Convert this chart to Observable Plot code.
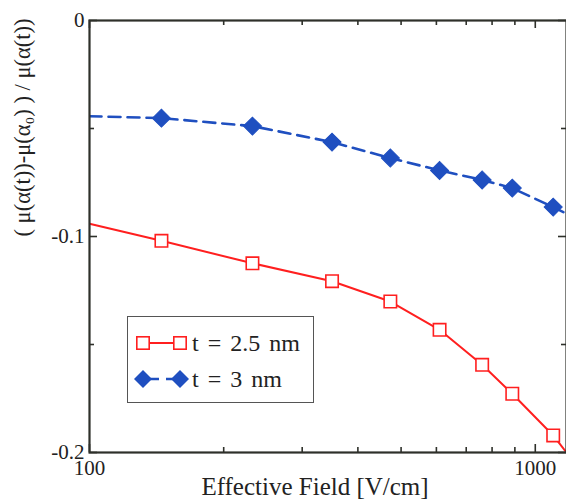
<!DOCTYPE html>
<html>
<head>
<meta charset="utf-8">
<script src="https://cdn.jsdelivr.net/npm/d3@7"></script>
<script src="https://cdn.jsdelivr.net/npm/@observablehq/plot@0.6"></script>
<style>
  html, body { margin: 0; padding: 0; background: #fff; }
  #chart { position: relative; width: 566px; height: 504px; overflow: hidden; }
  #chart svg, #chart svg text { font-family: "Liberation Serif", "Times New Roman", serif !important; }
</style>
</head>
<body>
<div id="chart"></div>
<script>
// ---- data ----
const field = [145, 232, 350, 473, 610, 760, 888, 1097];            // V/cm (marker positions)
const t25 = [-0.102, -0.1124, -0.1207, -0.1301, -0.1432, -0.1594, -0.1728, -0.1921];
const t3  = [-0.0452, -0.0489, -0.0563, -0.0637, -0.0694, -0.0738, -0.0776, -0.0864];
// where the curves meet the plot edges
const edgeField = [100, 1175];
const t25Edge = [-0.0941, -0.2];
const t3Edge  = [-0.0443, -0.0894];

const seriesNames = ["t = 2.5 nm", "t = 3 nm"];
const xTickLabels = [100, 1000];
const xMinorTicks = [200, 300, 400, 500, 600, 700, 800, 900];
const yTickLabels = [0, -0.1, -0.2];
const yMinorTicks = [-0.05, -0.15];
const xLabel = "Effective Field [V/cm]";
const yLabel = "( μ(α(t))-μ(α₀) ) / μ(α(t))";

const red = "#ff1f1f";
const blue = "#1f4fc0";
const frameColor = "#2e302a";

const pts = (xs, ys, s) => xs.map((x, i) => ({x, y: ys[i], s}));
const redPts = pts(field, t25, seriesNames[0]);
const bluePts = pts(field, t3, seriesNames[1]);
const redLine = [pts(edgeField, t25Edge)[0], ...redPts, pts(edgeField, t25Edge)[1]];
const blueLine = [pts(edgeField, t3Edge)[0], ...bluePts, pts(edgeField, t3Edge)[1]];

const W = 566, H = 504, mL = 89, mR = 0, mT = 20, mB = 52;
const pw = W - mL - mR, ph = H - mT - mB;
const major = 8, minor = 5;

const chart = Plot.plot({
  width: W, height: H,
  marginLeft: mL, marginRight: mR, marginTop: mT, marginBottom: mB,
  style: {fontFamily: "Liberation Serif", fontSize: "21px", background: "#fff", color: "#222"},
  x: {type: "log", domain: [100, 1175]},
  y: {domain: [-0.2, 0]},
  marks: [
    // lines
    Plot.line(blueLine, {x: "x", y: "y", stroke: blue, strokeWidth: 2.6, strokeDasharray: "12,7", clip: true}),
    Plot.line(redLine, {x: "x", y: "y", stroke: red, strokeWidth: 2, clip: true}),
    // markers
    Plot.dot(redPts, {x: "x", y: "y", symbol: "square", r: 7, fill: "#fff", stroke: red, strokeWidth: 1.6}),
    Plot.dot(bluePts, {x: "x", y: "y", symbol: "square", rotate: 45, r: 7.2, fill: blue, stroke: blue, strokeWidth: 1}),
    // inward ticks - bottom/top
    Plot.tickX(xTickLabels, {x: d => d, insetTop: ph - major, stroke: frameColor, strokeWidth: 1.6}),
    Plot.tickX(xMinorTicks, {x: d => d, insetTop: ph - minor, stroke: frameColor, strokeWidth: 1.6}),
    Plot.tickX(xTickLabels, {x: d => d, insetBottom: ph - major, stroke: frameColor, strokeWidth: 1.6}),
    Plot.tickX(xMinorTicks, {x: d => d, insetBottom: ph - minor, stroke: frameColor, strokeWidth: 1.6}),
    // inward ticks - left/right
    Plot.tickY(yTickLabels, {y: d => d, insetRight: pw - major, stroke: frameColor, strokeWidth: 1.6}),
    Plot.tickY(yMinorTicks, {y: d => d, insetRight: pw - minor, stroke: frameColor, strokeWidth: 1.6}),
    Plot.tickY(yTickLabels, {y: d => d, insetLeft: pw - major, stroke: frameColor, strokeWidth: 1.6}),
    Plot.tickY(yMinorTicks, {y: d => d, insetLeft: pw - minor, stroke: frameColor, strokeWidth: 1.6}),
    Plot.frame({stroke: frameColor, strokeWidth: 2.2}),
    // tick labels
    Plot.axisX({ticks: xTickLabels, tickSize: 0, tickPadding: 8, tickFormat: d => String(d), label: null, fontSize: 21}),
    Plot.axisY({ticks: yTickLabels, tickSize: 0, tickPadding: 5, tickFormat: d => d === 0 ? "0" : String(d), label: null, fontSize: 21}),
    // axis titles
    Plot.text([xLabel], {text: d => d, frameAnchor: "bottom", dx: -13, dy: 42, fontSize: 25, fill: "#222"}),
    Plot.text([yLabel], {text: d => d, frameAnchor: "left", dx: -67, rotate: -90, fontSize: 22.5, fill: "#222"})
  ]
});
document.getElementById("chart").appendChild(chart);

// ---- legend drawn inside the plot area ----
const svg = d3.select(chart);
const lg = svg.append("g").attr("text-anchor", "start");
lg.append("rect").attr("x", 127.5).attr("y", 316.5).attr("width", 186).attr("height", 86)
  .attr("fill", "#fff").attr("stroke", "#555").attr("stroke-width", 1);
const rows = [
  {name: seriesNames[0], y: 343, color: red},
  {name: seriesNames[1], y: 379, color: blue}
];
// row 1 : open squares, solid line
lg.append("line").attr("x1", 143).attr("x2", 180).attr("y1", rows[0].y).attr("y2", rows[0].y)
  .attr("stroke", red).attr("stroke-width", 2);
[143, 180].forEach(cx => lg.append("rect").attr("x", cx - 6.2).attr("y", rows[0].y - 6.2)
  .attr("width", 12.4).attr("height", 12.4).attr("fill", "#fff").attr("stroke", red).attr("stroke-width", 1.6));
// row 2 : filled diamonds, dashed line
lg.append("line").attr("x1", 143).attr("x2", 180).attr("y1", rows[1].y).attr("y2", rows[1].y)
  .attr("stroke", blue).attr("stroke-width", 2.6).attr("stroke-dasharray", "12,7").attr("stroke-dashoffset", -4);
[143, 180].forEach(cx => lg.append("path")
  .attr("d", `M${cx},${rows[1].y - 9}L${cx + 9},${rows[1].y}L${cx},${rows[1].y + 9}L${cx - 9},${rows[1].y}Z`)
  .attr("fill", blue));
rows.forEach(r => lg.append("text").attr("x", 192).attr("y", r.y).attr("dy", "0.35em")
  .attr("font-size", 24).attr("word-spacing", 3).attr("fill", "#222").text(r.name));
</script>
</body>
</html>
